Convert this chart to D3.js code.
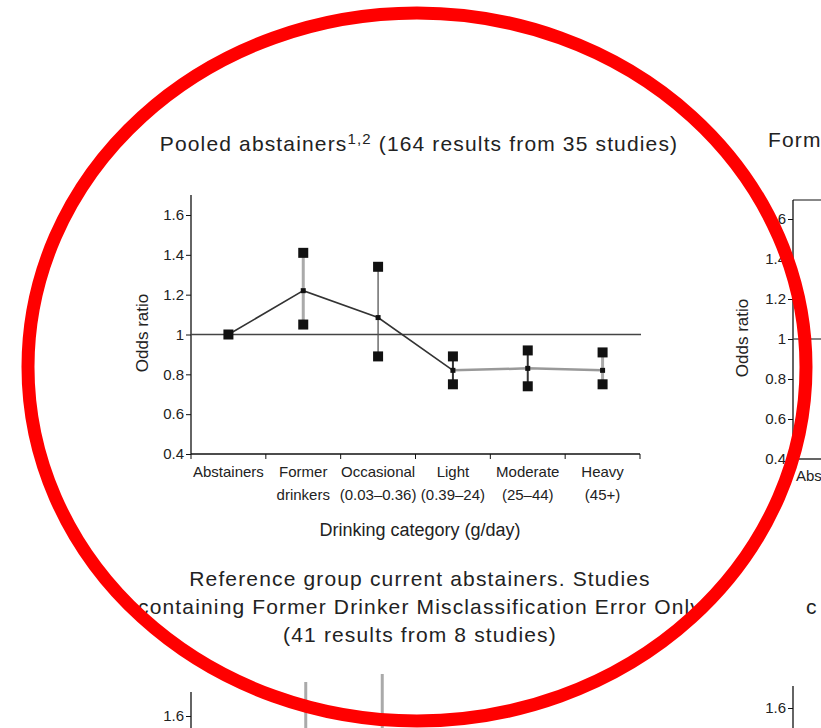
<!DOCTYPE html>
<meta charset="utf-8">
<script src="https://d3js.org/d3.v7.min.js"></script>
<style>
  body { margin: 0; background: #fff; }
  text { fill: #222; }
  .narrow { font-family: "Liberation Sans Narrow", "Arial Narrow", "Liberation Sans", sans-serif; }
  .wide { font-family: "Liberation Sans", Arial, sans-serif; letter-spacing: 1.15px; }
</style>
<div id="my_dataviz"></div>
<script>

// drinking categories (two line tick labels)
var categories = ["Abstainers", "Former", "Occasional", "Light", "Moderate", "Heavy"];
var labelLine1 = ["Abstainers", "Former", "Occasional", "Light", "Moderate", "Heavy"];
var labelLine2 = ["", "drinkers", "(0.03\u20130.36)", "(0.39\u201324)", "(25\u201344)", "(45+)"];

// pooled abstainers: odds ratio with lower / upper limits
var oddsRatio = [1.00, 1.22, 1.085, 0.82, 0.83, 0.82];
var lowerCI   = [null, 1.05, 0.89, 0.75, 0.74, 0.75];
var upperCI   = [null, 1.41, 1.34, 0.89, 0.92, 0.91];

// lower panel (only its top is visible): upper limits of the first bars
var lowerPanelCats  = ["Former", "Occasional"];
var lowerPanelUpper = [1.77, 1.81];

var yTicks = [0.4, 0.6, 0.8, 1, 1.2, 1.4, 1.6];
var yTicksCut = [1.6];

// error bar looks per category
var barStyle = {
  "Former":     {stroke: "#aaa", width: 3},
  "Occasional": {stroke: "#555", width: 1.3},
  "Light":      {stroke: "#333", width: 2},
  "Moderate":   {stroke: "#333", width: 2},
  "Heavy":      {stroke: "#aaa", width: 3}
};

var W = 821, H = 728;
var svg = d3.select("#my_dataviz").append("svg")
    .attr("width", W).attr("height", H)
    .style("display", "block");

svg.append("rect").attr("width", W).attr("height", H).attr("fill", "#fff");

function fmt(d) { return d === 1 ? "1" : d3.format(".1f")(d); }

function leftAxis(xPos, scale, ticks, top) {
  var g = svg.append("g").attr("class", "narrow")
      .attr("transform", "translate(" + xPos + ",0)")
      .call(d3.axisLeft(scale).tickValues(ticks).tickFormat(fmt).tickSize(5).tickPadding(2));
  g.select(".domain").attr("d", "M0," + top + "V" + scale(0.4))
      .attr("stroke", "#111").attr("stroke-width", 1.3);
  g.selectAll(".tick line").attr("stroke", "#111");
  g.selectAll(".tick text").style("font-size", "15px").attr("fill", "#222");
  return g;
}

// ---------- main panel ----------
var x = d3.scaleBand().domain(categories).range([191, 640]);
var y = d3.scaleLinear().domain([0.4, 1.6]).range([454, 215]);

svg.append("text").attr("class", "wide")
    .attr("x", 419).attr("y", 151)
    .attr("text-anchor", "middle")
    .style("font-size", "21px")
    .html('Pooled abstainers<tspan dy="-7" style="font-size:15px">1,2</tspan><tspan dy="7"> (164 results from 35 studies)</tspan>');

leftAxis(191, y, yTicks, y(1.7));

// x axis
var xAxisG = svg.append("g").attr("transform", "translate(0,454)");
xAxisG.append("line").attr("x1", x.range()[0]).attr("x2", x.range()[1])
    .attr("stroke", "#111").attr("stroke-width", 1.3);
xAxisG.selectAll(".xt")
    .data(categories.map(function (c) { return x(c); }).concat([x.range()[1]]))
    .enter().append("line")
    .attr("x1", function (d) { return d; }).attr("x2", function (d) { return d; })
    .attr("y1", 0).attr("y2", 5).attr("stroke", "#111");

var xl = svg.append("g").attr("class", "narrow");
xl.selectAll(".l1").data(categories).enter().append("text")
    .attr("x", function (c) { return x(c) + x.bandwidth() / 2; })
    .attr("y", 477).attr("text-anchor", "middle").style("font-size", "15px")
    .text(function (c, i) { return labelLine1[i]; });
xl.selectAll(".l2").data(categories).enter().append("text")
    .attr("x", function (c) { return x(c) + x.bandwidth() / 2; })
    .attr("y", 500).attr("text-anchor", "middle").style("font-size", "15px")
    .text(function (c, i) { return labelLine2[i]; });

svg.append("text").attr("class", "narrow")
    .attr("x", 420).attr("y", 536).attr("text-anchor", "middle")
    .style("font-size", "18px").text("Drinking category (g/day)");

svg.append("text").attr("class", "narrow")
    .attr("transform", "translate(148,333) rotate(-90)")
    .attr("text-anchor", "middle").style("font-size", "17px").text("Odds ratio");

// reference line at 1
svg.append("line").attr("x1", 191).attr("x2", 641)
    .attr("y1", y(1)).attr("y2", y(1)).attr("stroke", "#444").attr("stroke-width", 1.3);

var pts = categories.map(function (c, i) {
  return {cat: c, or: oddsRatio[i], lo: lowerCI[i], hi: upperCI[i]};
});
function cx(d) { return x(d.cat) + x.bandwidth() / 2; }

// error bars
svg.append("g").selectAll("line").data(pts.filter(function (d) { return d.lo !== null; }))
    .enter().append("line")
    .attr("x1", cx).attr("x2", cx)
    .attr("y1", function (d) { return y(d.lo); }).attr("y2", function (d) { return y(d.hi); })
    .attr("stroke", function (d) { return barStyle[d.cat].stroke; })
    .attr("stroke-width", function (d) { return barStyle[d.cat].width; });

// connecting line
var line = d3.line().x(cx).y(function (d) { return y(d.or); });
svg.append("path").datum(pts.slice(0, 4)).attr("d", line)
    .attr("fill", "none").attr("stroke", "#333").attr("stroke-width", 1.6);
svg.append("path").datum(pts.slice(3)).attr("d", line)
    .attr("fill", "none").attr("stroke", "#999").attr("stroke-width", 2.5);

// cap squares
var caps = [];
pts.forEach(function (d) {
  if (d.lo !== null) { caps.push({cat: d.cat, v: d.lo}); caps.push({cat: d.cat, v: d.hi}); }
});
svg.append("g").selectAll("rect").data(caps).enter().append("rect")
    .attr("x", function (d) { return cx(d) - 5; })
    .attr("y", function (d) { return y(d.v) - 5; })
    .attr("width", 10).attr("height", 10).attr("fill", "#111");

// point markers
svg.append("g").selectAll("rect").data(pts).enter().append("rect")
    .attr("x", function (d) { return cx(d) - (d.lo === null ? 5 : 2.5); })
    .attr("y", function (d) { return y(d.or) - (d.lo === null ? 5 : 2.5); })
    .attr("width", function (d) { return d.lo === null ? 10 : 5; })
    .attr("height", function (d) { return d.lo === null ? 10 : 5; })
    .attr("fill", "#111");

// ---------- lower panel (top only) ----------
svg.append("text").attr("class", "wide").attr("text-anchor", "middle")
    .style("font-size", "21px")
    .selectAll("tspan")
    .data(["Reference group current abstainers. Studies",
           "containing Former Drinker Misclassification Error Only",
           "(41 results from 8 studies)"])
    .enter().append("tspan")
    .attr("x", 420).attr("y", function (d, i) { return 586 + i * 28; })
    .text(function (d) { return d; });

var x2 = d3.scaleBand().domain(categories).range([191, 650]);
var y2 = d3.scaleLinear().domain([0.4, 1.6]).range([956, 716]);
leftAxis(191, y2, yTicksCut, 692);

svg.append("g").selectAll("line").data(lowerPanelCats).enter().append("line")
    .attr("x1", function (c) { return x2(c) + x2.bandwidth() / 2; })
    .attr("x2", function (c) { return x2(c) + x2.bandwidth() / 2; })
    .attr("y1", function (c, i) { return y2(lowerPanelUpper[i]); })
    .attr("y2", H + 5)
    .attr("stroke", "#aaa").attr("stroke-width", 3);

// ---------- right panels (cut off at the edge) ----------
svg.append("text").attr("class", "wide").attr("x", 768).attr("y", 147)
    .style("font-size", "21px").text("Form");

var y3 = d3.scaleLinear().domain([0.4, 1.6]).range([459, 219]);
leftAxis(793, y3, yTicks, 200);
svg.append("line").attr("x1", 793).attr("x2", 821).attr("y1", 200).attr("y2", 200)
    .attr("stroke", "#111");
svg.append("line").attr("x1", 793).attr("x2", 821).attr("y1", y3(0.4)).attr("y2", y3(0.4))
    .attr("stroke", "#111").attr("stroke-width", 1.3);
svg.append("line").attr("x1", 793).attr("x2", 821).attr("y1", y3(1)).attr("y2", y3(1))
    .attr("stroke", "#444").attr("stroke-width", 1.3);
svg.append("text").attr("class", "narrow").attr("x", 796).attr("y", 481)
    .style("font-size", "15px").text("Abs");
svg.append("text").attr("class", "narrow")
    .attr("transform", "translate(748,338) rotate(-90)")
    .attr("text-anchor", "middle").style("font-size", "17px").text("Odds ratio");

svg.append("text").attr("class", "wide").attr("x", 806).attr("y", 614)
    .style("font-size", "21px").text("c");

var y4 = d3.scaleLinear().domain([0.4, 1.6]).range([948, 708]);
leftAxis(793, y4, yTicksCut, 686);

// ---------- red annotation ellipse ----------
svg.append("ellipse").attr("cx", 417).attr("cy", 367)
    .attr("rx", 389).attr("ry", 354)
    .attr("fill", "none").attr("stroke", "#ff0000").attr("stroke-width", 13);

</script>
